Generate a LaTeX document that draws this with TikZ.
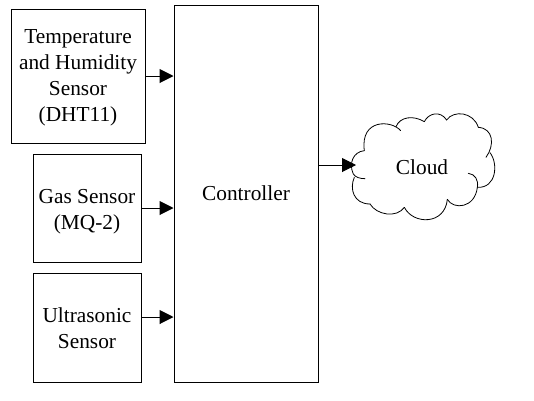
\documentclass[tikz,border=0pt]{standalone}
\usepackage{fontspec}
\setmainfont{Liberation Serif}
\usetikzlibrary{arrows.meta}
\tikzset{
  px/.style={x=0.75pt,y=-0.75pt},
  block/.style={draw=black,line width=0.75pt,fill=white,align=center,inner sep=0pt,font=\fontsize{16}{19.5}\selectfont},
  flow/.style={draw=black,line width=0.75pt,-{Triangle[length=10.5pt,width=10.5pt]}},
  cloudline/.style={draw=black,line width=0.6pt,line cap=round},
  label/.style={font=\fontsize{16}{19.5}\selectfont,inner sep=0pt}
}
\begin{document}
\begin{tikzpicture}[px]
\useasboundingbox (0,0) rectangle (534,400);
\node[block,minimum width=100.5pt,minimum height=100.5pt] (temp) at (78,76) {\rule{0pt}{13pt}Temperature\\and Humidity\\Sensor\\(DHT11)};
\node[block,minimum width=81pt,minimum height=81pt] (gas) at (87,208) {\rule{0pt}{16pt}Gas Sensor\\(MQ-2)};
\node[block,minimum width=81pt,minimum height=81.75pt] (ultra) at (87,327.5) {\rule{0pt}{12pt}Ultrasonic\\Sensor};
\node[block,minimum width=108pt,minimum height=282.75pt] (ctrl) at (246,193.5) {Controller};
\coordinate (tip) at (356,165);
\begin{scope}[shift={(320,100)},x=0.25pt,y=-0.25pt]
\path[fill=white] (133,152) .. controls (95,160) and (85,185) .. (100,225) .. controls (90,270) and (100,310) .. (150,312) .. controls (170,345) and (230,355) .. (253,322) .. controls (280,375) and (375,375) .. (382,298) .. controls (400,330) and (465,325) .. (472,262) .. controls (530,265) and (535,190) .. (510,158) .. controls (525,120) and (510,85) .. (475,82) .. controls (460,35) and (400,30) .. (380,60) .. controls (360,30) and (325,40) .. (313,65) .. controls (280,45) and (240,50) .. (228,80) .. controls (190,60) and (125,80) .. (133,152) -- cycle;
\draw[cloudline] (133,152) .. controls (100,155) and (85,190) .. (100,222) .. controls (106,232) and (120,236) .. (135,236);
\draw[cloudline] (103,232) .. controls (88,265) and (100,312) .. (150,312);
\draw[cloudline] (150,312) .. controls (170,345) and (230,355) .. (253,322);
\draw[cloudline] (253,322) .. controls (280,375) and (375,375) .. (382,298);
\draw[cloudline] (382,298) .. controls (400,330) and (465,325) .. (472,262) .. controls (476,240) and (465,222) .. (445,220);
\draw[cloudline] (472,262) .. controls (530,265) and (535,190) .. (510,158);
\draw[cloudline] (498,172) .. controls (525,135) and (520,85) .. (475,82);
\draw[cloudline] (475,82) .. controls (460,35) and (400,30) .. (380,60);
\draw[cloudline] (380,60) .. controls (360,30) and (325,40) .. (313,65);
\draw[cloudline] (313,65) .. controls (280,45) and (240,50) .. (228,80);
\draw[cloudline] (242,92) .. controls (215,60) and (120,55) .. (133,152);
\end{scope}
\node[label] (cloud) at (422,167) {Cloud};
\draw[flow] (temp.east) -- (temp.east -| ctrl.west);
\draw[flow] (gas.east) -- (gas.east -| ctrl.west);
\draw[flow] (ultra.east |- 0,317) -- (ctrl.west |- 0,317);
\draw[flow] (ctrl.east |- tip) -- (tip);
\end{tikzpicture}
\end{document}
